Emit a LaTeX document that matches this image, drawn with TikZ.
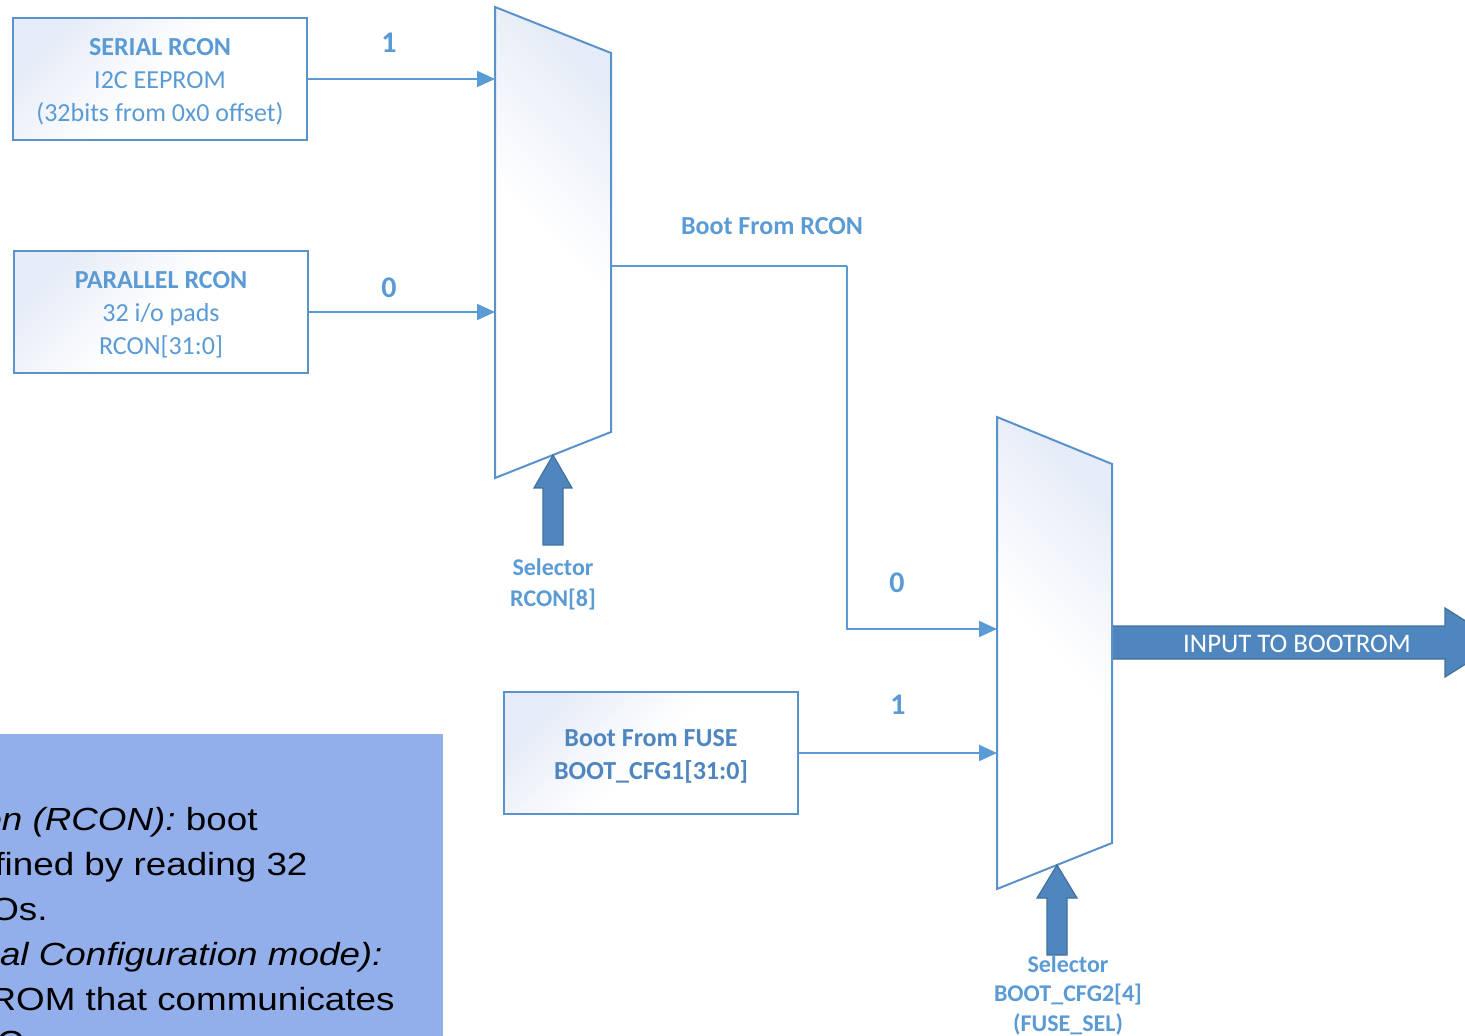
\documentclass[tikz,border=0pt]{standalone}
\usepackage{fontspec}
\setmainfont{Carlito}
\newfontfamily\notefont{Liberation Sans}
\usetikzlibrary{arrows.meta,positioning,calc}

\definecolor{txtblue}{HTML}{5B9BD5}
\definecolor{fusetxt}{HTML}{4F86C0}
\definecolor{edgeblue}{HTML}{5A92CB}
\definecolor{boxtint}{HTML}{E6ECF7}
\definecolor{arrowfill}{HTML}{4E86BD}
\definecolor{arrowedge}{HTML}{41719C}
\definecolor{notefill}{HTML}{92AFEB}

\tikzset{
  cfgbox/.style={draw=edgeblue, line width=1pt, top color=boxtint, bottom color=white,
    middle color=white, shading angle=45, minimum width=147pt, minimum height=61pt,
    align=center, text=txtblue, font=\fontsize{13}{16.5}\selectfont},
  mux/.style={draw=edgeblue, line width=1pt, top color=boxtint, bottom color=white,
    middle color=white, shading angle=-45},
  wire/.style={draw=txtblue, line width=1pt},
  wirearrow/.style={wire, -{Triangle[length=9pt,width=8pt]}},
  bitlbl/.style={text=txtblue, font=\fontsize{15}{18}\selectfont\bfseries},
  sellbl/.style={text=txtblue, align=center, inner sep=0pt},
  blockarrow/.style={fill=arrowfill, draw=arrowedge, line width=0.6pt, line join=miter},
  note/.style={font=\notefont\fontsize{16}{19}\selectfont, xscale=1.15, inner sep=0pt, text=black}
}

\begin{document}
\begin{tikzpicture}[x=0.5pt, y=-0.5pt]
    \useasboundingbox (0,0) rectangle (1465,1036);

    % Note panel (cut off at the page edge)
    \fill[notefill] (0,734) rectangle (443,1036);
    \node[note, anchor=base east] (note1) at (258,830) {\textit{on (RCON):} boot};
    \node[note, anchor=base east] (note2) at (308,875) {fined by reading 32};
    \node[note, anchor=base east] (note3) at (48,920) {Os.};
    \node[note, anchor=base east] (note4) at (383,965) {\textit{al Configuration mode):}};
    \node[note, anchor=base east] (note5) at (395,1010) {ROM that communicates};
    \node[note, anchor=base east] (note6) at (24,1053) {C};

    % Sources
    \node[cfgbox] (serial) at (160,79) {};
    \node[text=txtblue, align=center, font=\fontsize{13}{16.5}\selectfont] (serialtxt) at (160,82)
        {{\bfseries SERIAL RCON}\\I2C EEPROM\\(32bits from 0x0 offset)};
    \node[cfgbox] (parallel) at (161,312) {};
    \node[text=txtblue, align=center, font=\fontsize{13}{16.5}\selectfont] (paralleltxt) at (161,315)
        {{\bfseries PARALLEL RCON}\\32 i/o pads\\RCON[31:0]};
    \node[cfgbox] (fuse) at (651,753) {};
    \node[text=fusetxt, align=center, font=\fontsize{13}{16.5}\selectfont\bfseries] (fusetxt) at (651,756)
        {Boot From FUSE\\BOOT\_CFG1[31:0]};

    % First mux
    \coordinate (m1tl) at (495,7);
    \coordinate (m1tr) at (611,53);
    \coordinate (m1br) at (611,432);
    \coordinate (m1bl) at (495,478);
    \draw[mux] (m1tl) -- (m1tr) -- (m1br) -- (m1bl) -- cycle;
    \coordinate (m1out) at (611,266);

    % Second mux
    \coordinate (m2tl) at (997,417);
    \coordinate (m2tr) at (1112,464);
    \coordinate (m2br) at (1112,843);
    \coordinate (m2bl) at (997,889);
    \coordinate (m2out) at (1112,642.5);

    % Big output arrow
    \draw[blockarrow] (m2out) -- ++(0,-16.5) -- ++(333,0) -- ++(0,-18) -- ++(55,34.5)
        -- ++(-55,34.5) -- ++(0,-18) -- ++(-333,0) -- cycle;
    \draw[mux] (m2tl) -- (m2tr) -- (m2br) -- (m2bl) -- cycle;
    \node[text=white, font=\fontsize{13.4}{16}\selectfont] (bootrom) at (1297,644) {INPUT TO BOOTROM};

    % Inputs
    \draw[wirearrow] (serial.east) -- (serial.east -| m1tl);
    \draw[wirearrow] (parallel.east) -- (parallel.east -| m1tl);
    \node[bitlbl] (one1) at (389,43) {1};
    \node[bitlbl] (zero1) at (389,288) {0};

    \coordinate (bend) at (847,266);
    \coordinate (m2in0) at (997,629);
    \draw[wire] (m1out) -- (bend);
    \draw[wirearrow] (bend) |- (m2in0);
    \node[text=txtblue, font=\fontsize{13}{16}\selectfont\bfseries] (rconlbl) at (772,226) {Boot From RCON};
    \node[bitlbl] (zero2) at (897,583) {0};

    \draw[wirearrow] (fuse.east) -- (fuse.east -| m2tl);
    \node[bitlbl] (one2) at (898,705) {1};

    % Selectors
    \coordinate (s1tip) at (553,455);
    \draw[blockarrow] (s1tip) -- ++(19,33) -- ++(-9,0) -- ++(0,57) -- ++(-20,0)
        -- ++(0,-57) -- ++(-9,0) -- cycle;
    \node[sellbl, font=\fontsize{12}{15.5}\selectfont\bfseries] (sel1) at (553,584.5) {Selector\\RCON[8]};

    \coordinate (s2tip) at (1057,865);
    \draw[blockarrow] (s2tip) -- ++(20,33) -- ++(-10,0) -- ++(0,57) -- ++(-20,0)
        -- ++(0,-57) -- ++(-10,0) -- cycle;
    \node[sellbl, font=\fontsize{12}{14.75}\selectfont\bfseries] (sel2) at (1068,995) {Selector\\BOOT\_CFG2[4]\\(FUSE\_SEL)};
\end{tikzpicture}
\end{document}
